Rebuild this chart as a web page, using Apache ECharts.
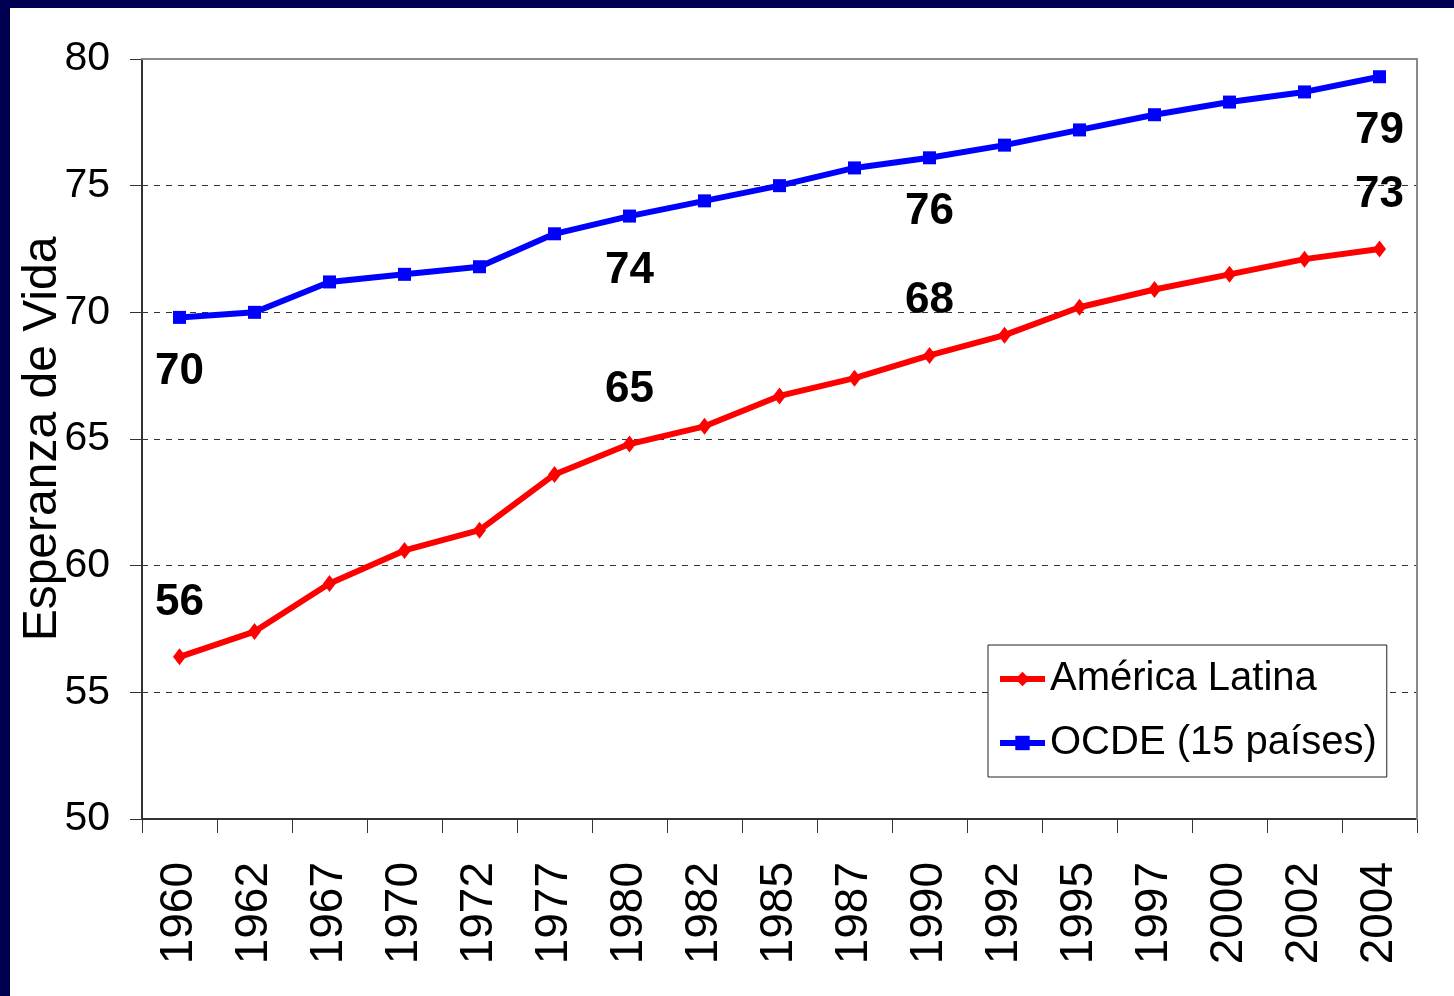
<!DOCTYPE html>
<html>
<head>
<meta charset="utf-8">
<script src="https://cdn.jsdelivr.net/npm/echarts@6/dist/echarts.min.js"></script>
<style>
html,body{margin:0;padding:0;background:#fff;}
#chart{width:1454px;height:996px;}
</style>
</head>
<body>
<div id="chart"></div>
<script>
const years = ['1960','1962','1967','1970','1972','1977','1980','1982','1985','1987','1990','1992','1995','1997','2000','2002','2004'];
const americaLatina = [56.4,57.4,59.3,60.6,61.4,63.6,64.8,65.5,66.7,67.4,68.3,69.1,70.2,70.9,71.5,72.1,72.5];
const ocde = [69.8,70.0,71.2,71.5,71.8,73.1,73.8,74.4,75.0,75.7,76.1,76.6,77.2,77.8,78.3,78.7,79.3];
const labeledYears = ['1960','1980','1990','2004'];
const yTicks = [50,55,60,65,70,75,80];

const NARROW = '"Liberation Sans Narrow","Arial Narrow","Liberation Sans",Arial,sans-serif';
const REG = '"Liberation Sans",Arial,sans-serif';

const chart = echarts.init(document.getElementById('chart'), null, {renderer:'canvas'});
const labelFmt = p => labeledYears.includes(p.name) ? String(Math.round(p.value)) : '';

chart.setOption({
  backgroundColor:'#ffffff',
  animation:false,
  graphic:[
    {type:'rect', shape:{x:0,y:0,width:1454,height:8}, style:{fill:'#000050'}, z:100},
    {type:'rect', shape:{x:0,y:0,width:10,height:996}, style:{fill:'#000050'}, z:100}
  ],
  grid:{left:142,right:37,top:59,bottom:177,containLabel:false,outerBoundsMode:'none'},
  legend:{
    orient:'vertical', left:988, top:645,
    backgroundColor:'#fff', borderColor:'#222', borderWidth:1,
    padding:[10,10,10,9], itemGap:16, itemWidth:45, itemHeight:18,
    textStyle:{fontFamily:NARROW, fontSize:40, color:'#000', lineHeight:48},
    data:[
      {name:'América Latina', lineStyle:{width:6}},
      {name:'OCDE (15 países)', lineStyle:{width:6}}
    ]
  },
  xAxis:[{
    type:'category', data:years, boundaryGap:true,
    axisLine:{lineStyle:{color:'#333',width:2}},
    axisTick:{show:true,length:14,alignWithLabel:false,lineStyle:{color:'#333',width:1}},
    axisLabel:{rotate:90, margin:43, padding:[10,0,0,0], fontFamily:REG, fontSize:46, color:'#000', interval:0}
  },{
    type:'category', data:years, position:'top', z:5,
    axisLine:{lineStyle:{color:'#8a8a8a',width:2}},
    axisTick:{show:false}, axisLabel:{show:false}
  }],
  yAxis:[{
    type:'value', min:50, max:80, interval:5,
    name:'Esperanza de Vida', nameLocation:'middle', nameRotate:90, nameGap:75,
    nameMoveOverlap:false,
    nameTextStyle:{fontFamily:REG, fontSize:48, color:'#000'},
    axisLine:{show:true,lineStyle:{color:'#333',width:2}},
    axisTick:{show:true,length:12,lineStyle:{color:'#333'}},
    axisLabel:{margin:32, fontFamily:NARROW, fontSize:41, color:'#000',
      formatter: v => yTicks.includes(v) ? String(v) : ''},
    splitLine:{show:true,lineStyle:{color:'#333',width:1,type:[6,6]}}
  },{
    type:'value', min:50, max:80, interval:5, position:'right', z:5,
    axisLine:{show:true,lineStyle:{color:'#8a8a8a',width:2}},
    axisTick:{show:false}, axisLabel:{show:false}, splitLine:{show:false}
  }],
  series:[{
    name:'América Latina', type:'line', data:americaLatina,
    symbol:'diamond', symbolSize:[13,17], color:'#ff0000',
    lineStyle:{width:6,color:'#ff0000'}, itemStyle:{color:'#ff0000'},
    label:{show:true, position:'top', distance:24, formatter:labelFmt,
      fontFamily:NARROW, fontSize:44, fontWeight:'bold', color:'#000'},
    z:3
  },{
    name:'OCDE (15 países)', type:'line', data:ocde,
    symbol:'rect', symbolSize:13, color:'#0000ff',
    lineStyle:{width:6,color:'#0000ff'}, itemStyle:{color:'#0000ff'},
    label:{show:true, position:'bottom', distance:26, formatter:labelFmt,
      fontFamily:NARROW, fontSize:44, fontWeight:'bold', color:'#000'},
    z:3
  }]
});
</script>
</body>
</html>
